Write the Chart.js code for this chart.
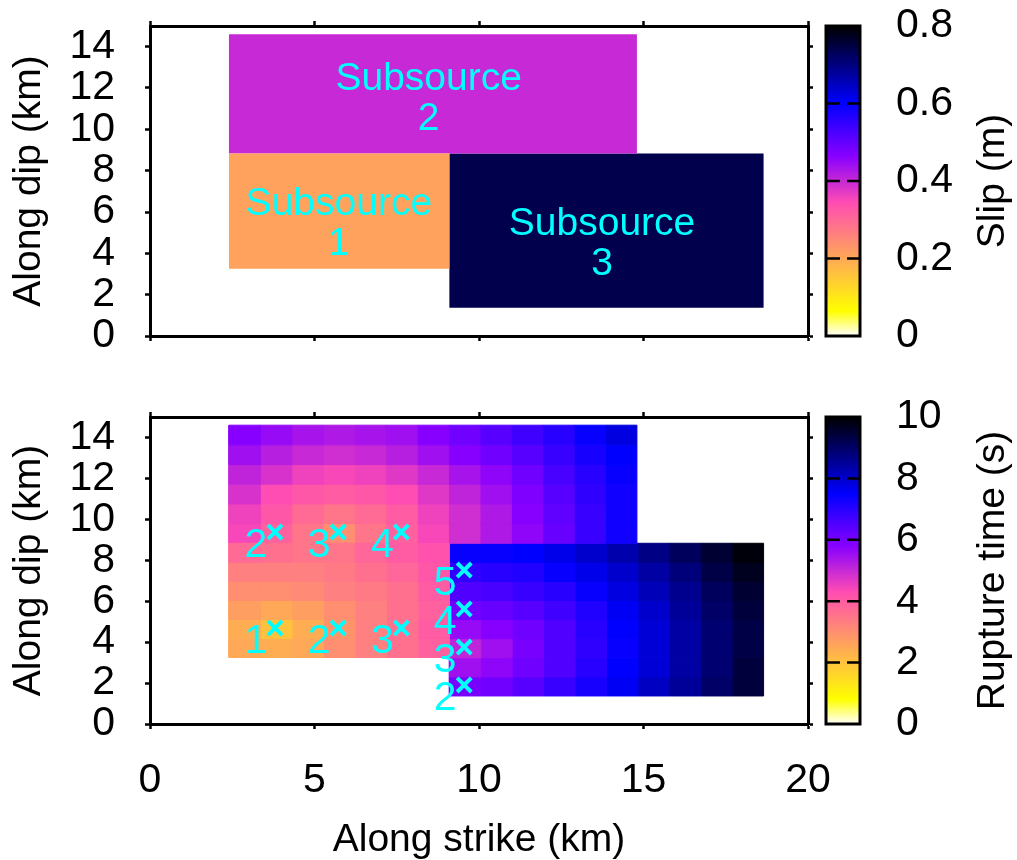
<!DOCTYPE html>
<html>
<head>
<meta charset="utf-8">
<script src="https://cdn.jsdelivr.net/npm/chart.js@4.4.1/dist/chart.umd.min.js"></script>
<style>
  html, body { margin: 0; padding: 0; background: #fff; overflow: hidden; }
  #wrap { position: relative; width: 1017px; height: 860px; overflow: hidden; }
  canvas { position: absolute; left: 0; }
  #slipChart { top: 0; }
  #timeChart { top: 370px; }
</style>
</head>
<body>
<div id="wrap">
  <canvas id="slipChart" width="1017" height="370"></canvas>
  <canvas id="timeChart" width="1017" height="494"></canvas>
</div>
<script>
// ---- axis ticks ----
const strikeTicks = [0, 5, 10, 15, 20];
const dipTicks = [0, 2, 4, 6, 8, 10, 12, 14];
const slipTicks = [0, 0.2, 0.4, 0.6, 0.8];
const slipTickLabels = ['0', '0.2', '0.4', '0.6', '0.8'];
const timeTicks = [0, 2, 4, 6, 8, 10];
const timeTickLabels = ['0', '2', '4', '6', '8', '10'];

// ---- subsources (km along strike / along dip) ----
const subTitle = 'Subsource';
const subNumber = ['1', '2', '3'];
const subStrikeFrom = [2.4, 2.4, 9.1];
const subStrikeTo = [9.1, 14.8, 18.65];
const subDipFrom = [3.25, 8.83, 1.37];
const subDipTo = [8.83, 14.6, 8.83];
const subSlip = [0.21, 0.40, 0.74];          // m
const subLabelStrike = [5.74, 8.47, 13.74];
const subLabelDip = [5.56, 11.61, 4.6];

// ---- rupture time per cell (s), rows listed from the top edge downwards ----
const ruptureTime1 = [
  [3.7, 3.6, 3.5, 3.5, 3.8, 4.0, 4.2],
  [3.3, 3.3, 3.3, 3.4, 3.6, 3.8, 4.1],
  [3.0, 3.0, 3.1, 3.3, 3.4, 3.6, 4.0],
  [2.7, 2.5, 2.7, 3.0, 3.3, 3.6, 3.9],
  [2.4, 2.0, 2.4, 2.9, 3.3, 3.6, 4.0],
  [2.5, 2.4, 2.5, 3.0, 3.3, 3.6, 3.9]
];
const ruptureTime2 = [
  [5.8, 5.6, 5.4, 5.3, 5.4, 5.5, 5.8, 6.1, 6.4, 6.7, 7.0, 7.4, 7.8],
  [5.5, 5.2, 5.0, 4.9, 5.0, 5.2, 5.5, 5.8, 6.1, 6.4, 6.8, 7.2, 7.5],
  [5.1, 4.8, 4.5, 4.4, 4.5, 4.7, 5.0, 5.4, 5.7, 6.1, 6.6, 7.0, 7.4],
  [4.8, 4.3, 4.1, 4.0, 4.1, 4.3, 4.7, 5.1, 5.5, 5.9, 6.4, 6.9, 7.3],
  [4.5, 4.1, 3.7, 3.5, 3.7, 4.0, 4.5, 4.9, 5.3, 5.8, 6.3, 6.8, 7.3],
  [4.4, 3.9, 3.5, 3.0, 3.5, 3.9, 4.4, 4.9, 5.3, 5.7, 6.2, 6.8, 7.3]
];
const ruptureTime3 = [
  [7.4, 7.4, 7.5, 7.7, 8.0, 8.3, 8.7, 9.1, 9.5, 9.9],
  [6.9, 7.0, 7.1, 7.4, 7.7, 8.0, 8.4, 8.8, 9.3, 9.7],
  [6.5, 6.6, 6.8, 7.0, 7.4, 7.8, 8.2, 8.6, 9.1, 9.5],
  [6.1, 6.2, 6.4, 6.7, 7.1, 7.6, 8.0, 8.5, 9.0, 9.4],
  [5.6, 5.8, 6.1, 6.5, 7.0, 7.5, 7.9, 8.4, 8.9, 9.3],
  [5.1, 5.5, 6.0, 6.5, 6.9, 7.4, 7.9, 8.4, 8.9, 9.3],
  [5.5, 5.7, 6.1, 6.5, 7.0, 7.5, 7.9, 8.4, 8.9, 9.4],
  [6.0, 6.1, 6.4, 6.8, 7.2, 7.6, 8.1, 8.5, 9.0, 9.4]
];
const ruptureTimes = [ruptureTime1, ruptureTime2, ruptureTime3];

// ---- candidate nucleation points ----
const hypoStrike = [3.8, 5.72, 7.64, 3.8, 5.72, 7.64, 9.55, 9.55, 9.55, 9.55];
const hypoDip = [4.69, 4.69, 4.69, 9.38, 9.38, 9.38, 7.52, 5.62, 3.76, 1.91];
const hypoLabel = ['1', '2', '3', '2', '3', '4', '5', '4', '3', '2'];

// ---- styling ----
const FONT = '"Liberation Sans", Arial, sans-serif';
const tickFont = { family: FONT, size: 41 };
const titleFont = { family: FONT, size: 39 };
const CYAN = '#00ffff';

// reversed gnuplot rgbformulae 30,31,32: white-yellow-orange-pink-violet-blue-black
function palette(t) {
  const x = 1 - Math.min(1, Math.max(0, t));
  const c = v => Math.round(255 * Math.min(1, Math.max(0, v)));
  const r = x / 0.32 - 0.78125;
  const g = 2 * x - 0.84;
  let b;
  if (x < 0.25) b = 4 * x;
  else if (x < 0.42) b = 1;
  else if (x < 0.92) b = -2 * x + 1.84;
  else b = x / 0.08 - 11.5;
  return `rgb(${c(r)},${c(g)},${c(b)})`;
}

function rectDataset(x0, x1, y0, y1, color, border) {
  return {
    type: 'line',
    data: [{ x: x0, y: y0 }, { x: x1, y: y0 }, { x: x1, y: y1 }, { x: x0, y: y1 }, { x: x0, y: y0 }],
    fill: 'shape',
    backgroundColor: color,
    borderColor: color,
    borderWidth: border,
    pointRadius: 0,
    pointHoverRadius: 0,
    tension: 0,
    xAxisID: 'x',
    yAxisID: 'y'
  };
}

// fixed box sizes so both panels share the same plot frame
function fixSize(s, horizontal, size) {
  if (horizontal) s.height = size; else s.width = size;
  s.paddingTop = 0; s.paddingBottom = 0; s.paddingLeft = 0; s.paddingRight = 0;
}

function frameAxis(position, min, max, ticks, size, extra) {
  const horizontal = position === 'top' || position === 'bottom';
  return Object.assign({
    type: 'linear',
    position, min, max,
    afterBuildTicks: s => { s.ticks = ticks.map(v => ({ value: v })); },
    afterFit: s => fixSize(s, horizontal, size),
    grid: { drawOnChartArea: false, drawTicks: true, tickLength: 5, tickWidth: 2.5, tickColor: '#000' },
    border: { display: true, width: 3, color: '#000' },
    ticks: { display: false }
  }, extra || {});
}

function colorbarAxis(max, ticks, labels) {
  return {
    type: 'linear', position: 'right', weight: 1, min: 0, max,
    afterBuildTicks: s => { s.ticks = ticks.map(v => ({ value: v })); },
    afterFit: s => fixSize(s, false, 191),
    grid: { display: false, drawTicks: false },
    border: { display: false },
    ticks: { autoSkip: false, font: tickFont, color: '#000', padding: 70, callback: (v, i) => labels[i] }
  };
}

function dipAxis() {
  return frameAxis('left', 0, 15, dipTicks, 150, {
    ticks: { display: true, autoSkip: false, font: tickFont, color: '#000', padding: 30 },
    title: { display: true, text: 'Along dip (km)', font: titleFont, color: '#000', padding: { top: 6, bottom: 0 } }
  });
}

// colour bar drawn along the 'cb' scale
const colorbarPlugin = {
  id: 'colorbar',
  afterDraw(chart, args, opts) {
    const s = chart.scales.cb;
    const { ctx } = chart;
    const left = s.left, right = s.left + 34;
    const top = s.top, bottom = s.bottom;
    ctx.save();
    const grad = ctx.createLinearGradient(0, bottom, 0, top);
    for (let i = 0; i <= 100; i++) grad.addColorStop(i / 100, palette(i / 100));
    ctx.fillStyle = grad;
    ctx.fillRect(left, top, right - left, bottom - top);
    ctx.strokeStyle = '#000';
    ctx.lineWidth = 2.5;
    ctx.beginPath();
    s.ticks.forEach(t => {
      if (t.value <= s.min || t.value >= s.max) return;
      const py = s.getPixelForValue(t.value);
      ctx.moveTo(left, py); ctx.lineTo(left + 14, py);
      ctx.moveTo(right - 13, py); ctx.lineTo(right, py);
    });
    ctx.stroke();
    ctx.lineWidth = 3;
    ctx.strokeRect(left, top, right - left, bottom - top);
    ctx.translate(993, (top + bottom) / 2);
    ctx.rotate(-Math.PI / 2);
    ctx.fillStyle = '#000';
    ctx.font = `${titleFont.size}px ${FONT}`;
    ctx.textAlign = 'center';
    ctx.textBaseline = 'middle';
    ctx.fillText(opts.title, 0, 0);
    ctx.restore();
  }
};

const subsourceLabels = {
  id: 'subsourceLabels',
  afterDatasetsDraw(chart) {
    const { ctx, scales: { x, y } } = chart;
    ctx.save();
    ctx.fillStyle = CYAN;
    ctx.font = `${titleFont.size}px ${FONT}`;
    ctx.textAlign = 'center';
    ctx.textBaseline = 'alphabetic';
    subNumber.forEach((n, i) => {
      const px = x.getPixelForValue(subLabelStrike[i]);
      const py = y.getPixelForValue(subLabelDip[i]);
      ctx.fillText(subTitle, px, py - 6);
      ctx.fillText(n, px, py + 34);
    });
    ctx.restore();
  }
};

const hypoLabels = {
  id: 'hypoLabels',
  afterDatasetsDraw(chart) {
    const { ctx, scales: { x, y } } = chart;
    ctx.save();
    ctx.fillStyle = CYAN;
    ctx.font = `${tickFont.size}px ${FONT}`;
    ctx.textAlign = 'center';
    ctx.textBaseline = 'alphabetic';
    hypoLabel.forEach((t, i) => {
      const px = x.getPixelForValue(hypoStrike[i]);
      const py = y.getPixelForValue(hypoDip[i]);
      ctx.fillText(t, px - 19, py + 25);
    });
    ctx.restore();
  }
};

const common = {
  responsive: false,
  animation: false,
  events: [],
  layout: { padding: 0 }
};

// ---- upper panel: slip of each subsource ----
const slipSets = subNumber.map((n, i) =>
  rectDataset(subStrikeFrom[i], subStrikeTo[i], subDipFrom[i], subDipTo[i], palette(subSlip[i] / 0.8), 0));

new Chart(document.getElementById('slipChart'), {
  type: 'line',
  data: { datasets: slipSets },
  options: Object.assign({}, common, {
    plugins: { legend: { display: false }, tooltip: { enabled: false }, colorbar: { title: 'Slip (m)' } },
    scales: {
      x: frameAxis('bottom', 0, 20, strikeTicks, 34),
      xTop: frameAxis('top', 0, 20, strikeTicks, 26),
      y: dipAxis(),
      yRight: frameAxis('right', 0, 15, dipTicks, 18, { weight: 0 }),
      cb: colorbarAxis(0.8, slipTicks, slipTickLabels)
    }
  }),
  plugins: [colorbarPlugin, subsourceLabels]
});

// ---- lower panel: rupture time of each cell ----
const cellSets = [];
ruptureTimes.forEach((grid, k) => {
  const rows = grid.length, cols = grid[0].length;
  const w = (subStrikeTo[k] - subStrikeFrom[k]) / cols;
  const h = (subDipTo[k] - subDipFrom[k]) / rows;
  grid.forEach((row, j) => {
    const yTop = subDipTo[k] - j * h;
    row.forEach((t, i) => {
      const x0 = subStrikeFrom[k] + i * w;
      cellSets.push(rectDataset(x0, x0 + w, yTop - h, yTop, palette(t / 10), 1));
    });
  });
});
cellSets.push({
  type: 'line',
  data: hypoStrike.map((v, i) => ({ x: v, y: hypoDip[i] })),
  showLine: false,
  pointStyle: 'crossRot',
  pointRadius: 10,
  pointHoverRadius: 10,
  pointBorderWidth: 4,
  pointBorderColor: CYAN,
  pointBackgroundColor: CYAN,
  order: -1,
  xAxisID: 'x',
  yAxisID: 'y'
});

new Chart(document.getElementById('timeChart'), {
  type: 'line',
  data: { datasets: cellSets },
  options: Object.assign({}, common, {
    plugins: { legend: { display: false }, tooltip: { enabled: false }, colorbar: { title: 'Rupture time (s)' } },
    scales: {
      x: frameAxis('bottom', 0, 20, strikeTicks, 140, {
        ticks: { display: true, autoSkip: false, maxRotation: 0, font: tickFont, color: '#000', padding: 27 },
        title: { display: true, text: 'Along strike (km)', font: titleFont, color: '#000', padding: { top: 0, bottom: 0 } }
      }),
      xTop: frameAxis('top', 0, 20, strikeTicks, 47),
      y: dipAxis(),
      yRight: frameAxis('right', 0, 15, dipTicks, 18, { weight: 0 }),
      cb: colorbarAxis(10, timeTicks, timeTickLabels)
    }
  }),
  plugins: [colorbarPlugin, hypoLabels]
});
</script>
</body>
</html>
